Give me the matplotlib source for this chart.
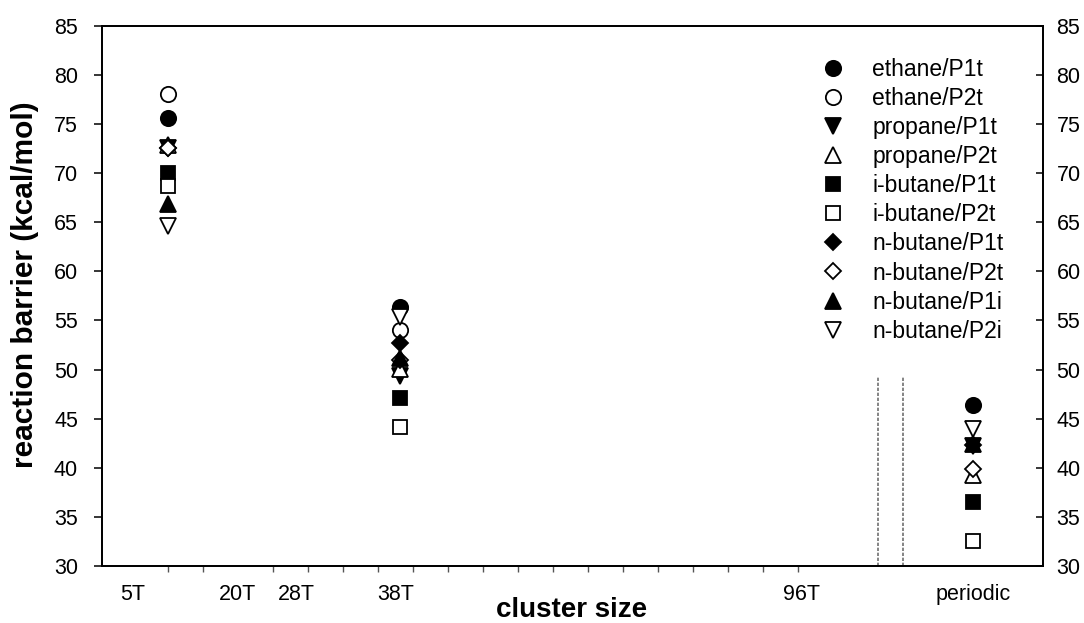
import numpy as np
import matplotlib
matplotlib.use('Agg')
import matplotlib.pyplot as plt

plt.rcParams['font.family'] = ['Liberation Sans', 'DejaVu Sans']

# x positions of the three cluster groups (in "cluster size" units)
group_x = [10, 43.2, 125]

series = ['ethane/P1t', 'ethane/P2t', 'propane/P1t', 'propane/P2t',
          'i-butane/P1t', 'i-butane/P2t', 'n-butane/P1t', 'n-butane/P2t',
          'n-butane/P1i', 'n-butane/P2i']

# reaction barriers (kcal/mol) at 5T, 38T, periodic
ethane_p1t = [75.6, 56.4, 46.4]
ethane_p2t = [78.0, 54.0, np.nan]
propane_p1t = [72.6, 49.3, 42.2]
propane_p2t = [72.9, 50.1, 39.3]
ibutane_p1t = [70.0, 47.1, 36.5]
ibutane_p2t = [68.7, 44.1, 32.5]
nbutane_p1t = [72.6, 52.7, 42.3]
nbutane_p2t = [72.6, 51.0, 39.9]
nbutane_p1i = [66.8, 51.2, 42.4]
nbutane_p2i = [64.6, 55.3, 43.9]

values = [ethane_p1t, ethane_p2t, propane_p1t, propane_p2t, ibutane_p1t,
          ibutane_p2t, nbutane_p1t, nbutane_p2t, nbutane_p1i, nbutane_p2i]

tick_marks = list(range(5, 101, 5)) + [125]
label_pos = [5, 20, 28.3, 42.6, 100.5, 125]
label_txt = ['5T', '20T', '28T', '38T', '96T', 'periodic']

# marker style per series: (marker, filled, size)
styles = [('o', True, 11), ('o', False, 11), ('v', True, 11), ('^', False, 11),
          ('s', True, 9.5), ('s', False, 9.5), ('D', True, 8.5), ('D', False, 8.5),
          ('^', True, 11), ('v', False, 11)]

W, H = 1084, 623
fig = plt.figure(figsize=(W / 100, H / 100), dpi=100)
ax = fig.add_axes([101.7 / W, 1 - 566 / H, (1042.7 - 101.7) / W, (566 - 25.7) / H])

for name, vals, (mk, filled, ms) in zip(series, values, styles):
    ax.plot(group_x, vals, linestyle='none', marker=mk, markersize=ms,
            markerfacecolor='black' if filled else 'white',
            markeredgecolor='black', markeredgewidth=1.3, label=name)

# axis break lines
ax.vlines([111.45, 114.95], 30, 49.2, colors='#707070', linewidth=1.2,
          linestyles=(0, (2, 1)))

ax.set_xlim(0.575, 134.9)
ax.set_ylim(30, 85)

ax.set_xticks(tick_marks, minor=True)
ax.set_xticks(label_pos)
ax.set_xticklabels(label_txt)
ax.tick_params(axis='x', which='minor', direction='out', length=4,
               width=1.0, color='#555555')
ax.tick_params(axis='x', which='major', length=0, pad=13, labelsize=15.5)

yt = np.arange(30, 86, 5)
ax.set_yticks(yt)
ax.tick_params(axis='y', direction='out', length=6, width=1.1, pad=11,
               labelsize=15.5)

ax2 = ax.twinx()
ax2.set_ylim(30, 85)
ax2.set_yticks(yt)
ax2.tick_params(axis='y', direction='in', length=5, width=1.1, pad=10,
                labelsize=15.5)

for a in (ax, ax2):
    for sp in a.spines.values():
        sp.set_linewidth(1.3)

fig.text(572 / W, 1 - 617 / H, 'cluster size', ha='center', va='baseline',
         fontsize=20, fontweight='bold')
fig.text(25 / W, 1 - 285 / H, 'reaction barrier (kcal/mol)', ha='center',
         va='center', rotation=90, fontsize=21.5, fontweight='bold')

leg = ax.legend(loc='upper left', bbox_to_anchor=(822 / W, 1 - 58 / H),
                bbox_transform=fig.transFigure, frameon=False, fontsize=16.5,
                numpoints=1, handlelength=1.0, handletextpad=1.2,
                labelspacing=0.265, borderpad=0, borderaxespad=0)

fig.savefig('out.png', dpi=100)
